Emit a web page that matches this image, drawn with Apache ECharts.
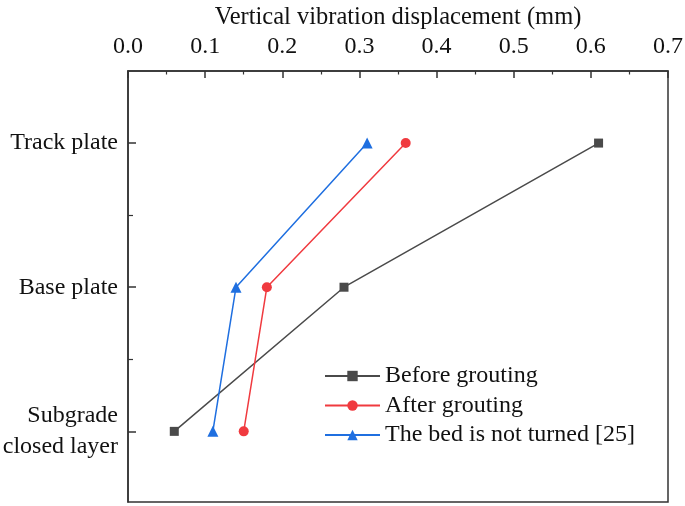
<!DOCTYPE html>
<html><head><meta charset="utf-8">
<script src="https://cdn.jsdelivr.net/npm/echarts@6/dist/echarts.min.js"></script>
<style>html,body{margin:0;padding:0;background:#fff}#c{width:685px;height:506px}</style>
</head><body><div id="c"></div>
<script>
const categories = ['Track plate', 'Base plate', 'Subgrade\nclosed layer'];
const beforeGrouting = [0.61, 0.28, 0.06];
const afterGrouting = [0.36, 0.18, 0.15];
const bedNotTurned = [0.31, 0.14, 0.11];
const xTicks = [0.0, 0.1, 0.2, 0.3, 0.4, 0.5, 0.6, 0.7];
const seriesNames = ['Before grouting', 'After grouting', 'The bed is not turned [25]'];

const font = 'Liberation Serif';
const axisColor = '#333';
const catIdx = categories.map((c, i) => i);
const chart = echarts.init(document.getElementById('c'));
function mk(name, vals, color, symbol, size) {
  return {
    name, type: 'line', data: vals.map((v, i) => [v, i]), xAxisIndex: 0, yAxisIndex: 0,
    symbol, symbolSize: size,
    lineStyle: { color, width: 1.5 },
    itemStyle: { color },
    animation: false
  };
}
chart.setOption({
  animation: false,
  textStyle: { fontFamily: font },
  grid: { left: 128, right: 17, top: 71, bottom: 4, outerBoundsMode: 'none', containLabel: false, show: true, borderColor: axisColor, borderWidth: 1.5, backgroundColor: 'transparent' },
  legend: {
    orient: 'vertical', left: 319, top: 359,
    itemWidth: 55, itemHeight: 13, itemGap: 5.5,
    textStyle: { fontFamily: font, fontSize: 24, color: '#111' },
    data: seriesNames
  },
  xAxis: [{
    type: 'value', position: 'top', min: xTicks[0], max: xTicks[xTicks.length - 1], interval: 0.1,
    name: 'Vertical vibration displacement (mm)', nameLocation: 'middle', nameGap: 40,
    nameTextStyle: { fontFamily: font, fontSize: 24.5, color: '#111' },
    axisLine: { onZero: false, lineStyle: { color: axisColor, width: 1.5 } },
    axisTick: { inside: true, length: 7, lineStyle: { color: axisColor, width: 1.5 } },
    minorTick: { show: true, splitNumber: 2, length: 3.5, lineStyle: { color: axisColor, width: 1.2 } },
    splitLine: { show: false },
    minorSplitLine: { show: false },
    axisLabel: { fontFamily: font, fontSize: 24, color: '#111', margin: 12, formatter: v => v.toFixed(1) }
  }],
  yAxis: [{
    type: 'value', inverse: true, min: -0.5, max: 2.49,
    axisLine: { onZero: false, lineStyle: { color: axisColor, width: 1.5 } },
    axisTick: { inside: true, length: 8, customValues: catIdx, lineStyle: { color: axisColor, width: 1.5 } },
    axisLabel: { fontFamily: font, fontSize: 24, color: '#111', margin: 10, lineHeight: 31, align: 'right',
      customValues: catIdx, formatter: v => categories[Math.round(v)] },
    splitLine: { show: false }
  }, {
    type: 'value', inverse: true, min: -0.5, max: 2.49, position: 'left', offset: 0,
    axisLine: { show: false, onZero: false },
    axisTick: { inside: true, length: 5, customValues: [0.5, 1.5], lineStyle: { color: axisColor, width: 1.2 } },
    axisLabel: { show: false },
    splitLine: { show: false }
  }],
  series: [
    mk(seriesNames[0], beforeGrouting, '#4a4a4a', 'rect', 9),
    mk(seriesNames[1], afterGrouting, '#f03a3f', 'circle', 10),
    mk(seriesNames[2], bedNotTurned, '#1f6fe0', 'triangle', 11)
  ]
});
</script></body></html>
